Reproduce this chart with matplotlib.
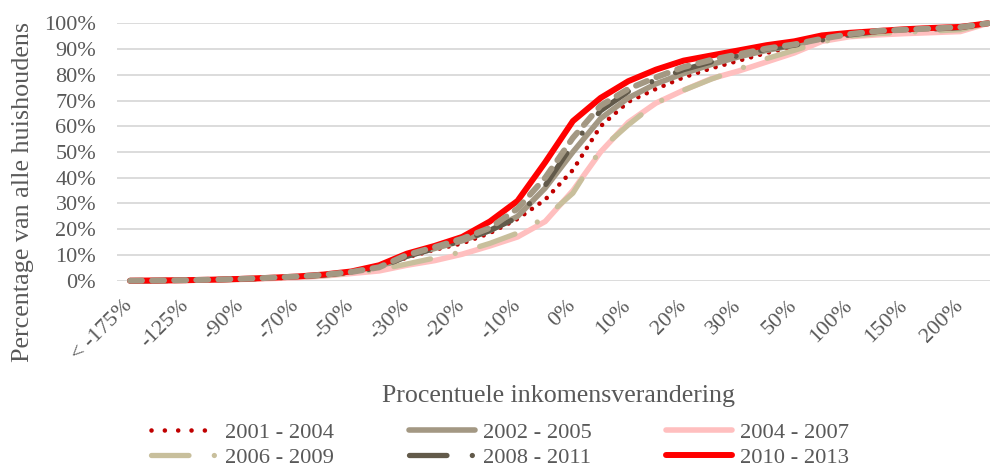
import numpy as np
import matplotlib
matplotlib.use("Agg")
import matplotlib.pyplot as plt
from matplotlib.lines import Line2D
from matplotlib.ticker import PercentFormatter

# ---------------- data ----------------
categories = ['< -175%', '-150%', '-125%', '-100%', '-90%', '-80%', '-70%', '-60%',
              '-50%', '-40%', '-30%', '-25%', '-20%', '-15%', '-10%', '-5%',
              '0%', '5%', '10%', '15%', '20%', '25%', '30%', '40%',
              '50%', '75%', '100%', '125%', '150%', '175%', '200%', '> 200%']

s2001_2004 = [0, 0, 0.2, 0.4, 0.6, 1.0, 1.5, 2.2, 3.3, 5.0, 9.0, 12.0, 14.5, 18.5, 24.0, 31.5,
              43.0, 60.0, 69.5, 74.5, 79.0, 82.5, 85.5, 88.5, 91.0, 93.5, 95.5, 96.8, 97.3, 97.8, 98.3, 100]
s2002_2005 = [0, 0, 0.2, 0.4, 0.6, 1.0, 1.5, 2.2, 3.3, 5.0, 9.5, 12.5, 15.5, 19.5, 25.0, 36.0,
              50.0, 63.0, 71.0, 76.5, 80.5, 84.0, 87.0, 89.5, 91.5, 93.5, 95.5, 96.8, 97.3, 97.8, 98.3, 100]
s2004_2007 = [0, 0, 0.1, 0.3, 0.5, 0.8, 1.2, 1.8, 2.8, 3.8, 6.0, 7.8, 10.3, 13.5, 17.0, 23.0,
              35.0, 50.0, 61.5, 69.0, 74.0, 78.5, 81.5, 85.0, 88.5, 93.0, 94.8, 95.5, 96.0, 96.4, 96.8, 100]
s2006_2009 = [0, 0, 0.1, 0.3, 0.5, 0.8, 1.3, 2.0, 3.0, 4.3, 6.5, 8.8, 11.2, 14.5, 18.5, 24.5,
              34.0, 51.0, 60.5, 69.0, 74.0, 78.3, 82.2, 86.3, 89.5, 92.8, 95.0, 96.0, 96.5, 97.0, 97.5, 100]
s2008_2011 = [0, 0, 0.2, 0.4, 0.6, 1.0, 1.5, 2.2, 3.3, 5.0, 9.5, 12.5, 15.5, 19.5, 24.5, 37.0,
              53.0, 66.0, 73.5, 78.0, 82.0, 85.0, 87.5, 90.0, 91.5, 93.5, 95.5, 96.8, 97.3, 97.8, 98.3, 100]
s2010_2013 = [0, 0.1, 0.2, 0.4, 0.7, 1.1, 1.6, 2.4, 3.6, 6.0, 10.5, 13.5, 17.0, 23.0, 31.0, 46.0,
              62.0, 71.0, 77.5, 82.0, 85.5, 87.5, 89.5, 91.5, 93.0, 95.3, 96.3, 97.0, 97.7, 98.2, 98.6, 100]
# extra dashed series visible in the chart (no legend entry)
s_extra = [0, 0.1, 0.2, 0.4, 0.7, 1.1, 1.6, 2.3, 3.4, 5.2, 10.0, 13.0, 16.3, 20.5, 28.0, 40.0,
           55.5, 68.0, 74.5, 79.0, 83.0, 85.8, 88.0, 90.2, 91.8, 94.0, 95.8, 97.0, 97.5, 98.0, 98.5, 100]

labels = ['2001 - 2004', '2002 - 2005', '2004 - 2007', '2006 - 2009', '2008 - 2011', '2010 - 2013']

# ---------------- style ----------------
FONT = ['Liberation Serif', 'DejaVu Serif']
TXT = '#595959'
plt.rcParams['font.family'] = FONT

c_dot = '#C00000'
c_tan = '#A39883'
c_pink = '#FFBFBF'
c_khaki = '#C8BF9C'
c_dark = '#625A4A'
c_red = '#FF0000'

fig = plt.figure(figsize=(9.9, 4.7), dpi=100)
W, H = 990, 470
ax = fig.add_axes([117 / W, 1 - 280.7 / H, (W - 117) / W, (280.7 - 23.3) / H])

x = np.arange(len(categories))

def frac(v):
    return np.array(v) / 100.0

ldd = (0, (7.1, 4.8, 0.01, 4.8))
styles = [
    dict(y=s2001_2004, color=c_dot, lw=3.3, ls=(0, (0.01, 2.0)), lls=(0, (0.01, 2.9))),
    dict(y=s2002_2005, color=c_tan, lw=4.0, ls='-', lls='-'),
    dict(y=s2004_2007, color=c_pink, lw=4.0, ls='-', lls='-'),
    dict(y=s2006_2009, color=c_khaki, lw=3.8, ls=ldd, lls=ldd),
    dict(y=s2008_2011, color=c_dark, lw=3.8, ls=ldd, lls=ldd),
    dict(y=s2010_2013, color=c_red, lw=4.3, ls='-', lls='-'),
]
handles = []
for st, lab in zip(styles, labels):
    ax.plot(x, frac(st['y']), color=st['color'], lw=st['lw'], linestyle=st['ls'],
            dash_capstyle='round', solid_capstyle='round', solid_joinstyle='round',
            clip_on=False)
    handles.append(Line2D([0], [0], color=st['color'], lw=st['lw'], linestyle=st['lls'],
                          dash_capstyle='round', solid_capstyle='round'))

ax.plot(x, frac(s_extra), color=c_tan, lw=4.3, linestyle=(0, (2.0, 1.7)),
        dash_capstyle='round', clip_on=False)

ax.set_xlim(-0.47, 31.07)
ax.set_ylim(0, 1)
ax.set_yticks(np.arange(0, 1.001, 0.1))
ax.yaxis.set_major_formatter(PercentFormatter(1.0, decimals=0))
ax.grid(axis='y', color='#D9D9D9', lw=1.3)
ax.set_axisbelow(True)
for sp in ax.spines.values():
    sp.set_visible(False)
ax.tick_params(axis='y', length=0, pad=15, labelsize=16, labelcolor=TXT)
ax.set_xticks(x[::2])
ax.set_xticklabels(categories[::2], rotation=45, ha='right', va='center',
                   rotation_mode='anchor', fontsize=16, color=TXT)
ax.tick_params(axis='x', length=0, pad=16)

fig.text(23 / W, 1 - 192 / H, 'Percentage van alle huishoudens', rotation=90,
         ha='center', va='center', fontsize=18.8, color=TXT)
fig.text(559 / W, 1 - 396 / H, 'Procentuele inkomensverandering',
         ha='center', va='center', fontsize=18.6, color=TXT)

order = [0, 3, 1, 4, 2, 5]
leg = fig.legend([handles[i] for i in order], [labels[i] for i in order], ncol=3,
                 loc='center left', bbox_to_anchor=(151 / W, 1 - 445 / H),
                 frameon=False, fontsize=16.2, handlelength=2.95, handletextpad=0.35,
                 columnspacing=3.3, labelspacing=0.22, borderpad=0, borderaxespad=0)
for t in leg.get_texts():
    t.set_color(TXT)

fig.savefig('out.png', dpi=100)
